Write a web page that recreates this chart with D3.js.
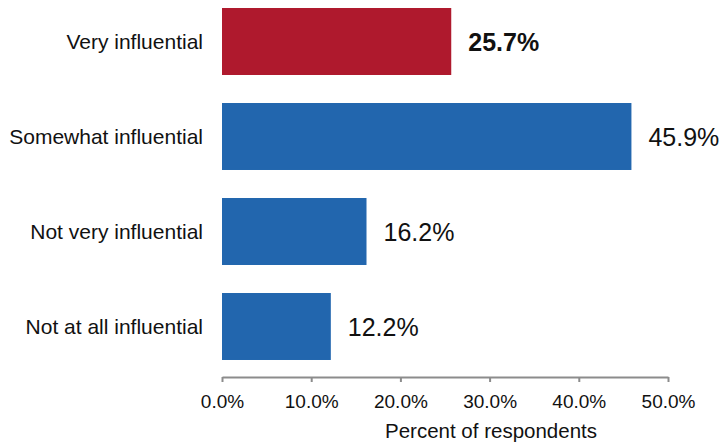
<!DOCTYPE html>
<html>
<head>
<meta charset="utf-8">
<script src="https://cdn.jsdelivr.net/npm/d3@7"></script>
<style>
  html, body { margin: 0; padding: 0; background: #fff; }
  svg { display: block; font-family: "Liberation Sans", Arial, sans-serif; }
</style>
</head>
<body>
<svg id="chart" width="724" height="442"></svg>
<script>
// Survey responses: how influential respondents consider the factor
const categories = ["Very influential", "Somewhat influential", "Not very influential", "Not at all influential"];
const percents = [25.7, 45.9, 16.2, 12.2];
const highlighted = ["Very influential"];
const tickValues = [0, 10, 20, 30, 40, 50];
const axisTitle = "Percent of respondents";

const svg = d3.select("#chart");

const x = d3.scaleLinear().domain([0, 50]).range([222, 668]);
const y = d3.scaleBand()
  .domain(categories)
  .range([-6, 374])
  .paddingInner(0.295)
  .paddingOuter(0.1475);

const rows = categories.map((c, i) => ({ cat: c, value: percents[i], hi: highlighted.includes(c) }));

// Bars
svg.append("g").selectAll("rect")
  .data(rows)
  .join("rect")
  .attr("x", x(0))
  .attr("y", d => y(d.cat))
  .attr("width", d => x(d.value) - x(0))
  .attr("height", y.bandwidth())
  .attr("fill", d => d.hi ? "#AF192D" : "#2266AE");

// Category labels
svg.append("g").selectAll("text")
  .data(rows)
  .join("text")
  .attr("x", 203)
  .attr("y", d => y(d.cat) + y.bandwidth() / 2 + 7.5)
  .attr("text-anchor", "end")
  .attr("font-size", 21)
  .attr("fill", "#111")
  .text(d => d.cat);

// Value labels
svg.append("g").selectAll("text")
  .data(rows)
  .join("text")
  .attr("x", d => x(d.value) + 17)
  .attr("y", d => y(d.cat) + y.bandwidth() / 2 + 9.5)
  .attr("font-size", 25)
  .attr("font-weight", d => d.hi ? "bold" : "normal")
  .attr("fill", "#111")
  .text(d => d.value.toFixed(1) + "%");

// X axis
const axis = svg.append("g")
  .attr("transform", "translate(0,377)")
  .call(d3.axisBottom(x)
    .tickValues(tickValues)
    .tickFormat(d => d.toFixed(1) + "%")
    .tickSizeInner(5)
    .tickSizeOuter(0));

axis.select(".domain").attr("stroke", "#8c8c8c").attr("stroke-width", 2);
axis.selectAll(".tick line").attr("stroke", "#8c8c8c").attr("stroke-width", 2);
axis.selectAll(".tick text")
  .attr("y", 31)
  .attr("dy", null)
  .style("font-size", "19px")
  .style("font-family", "'Liberation Sans', Arial, sans-serif")
  .attr("fill", "#111");

svg.append("text")
  .attr("x", 491)
  .attr("y", 438)
  .attr("text-anchor", "middle")
  .attr("font-size", 20.5)
  .attr("fill", "#111")
  .text(axisTitle);
</script>
</body>
</html>
